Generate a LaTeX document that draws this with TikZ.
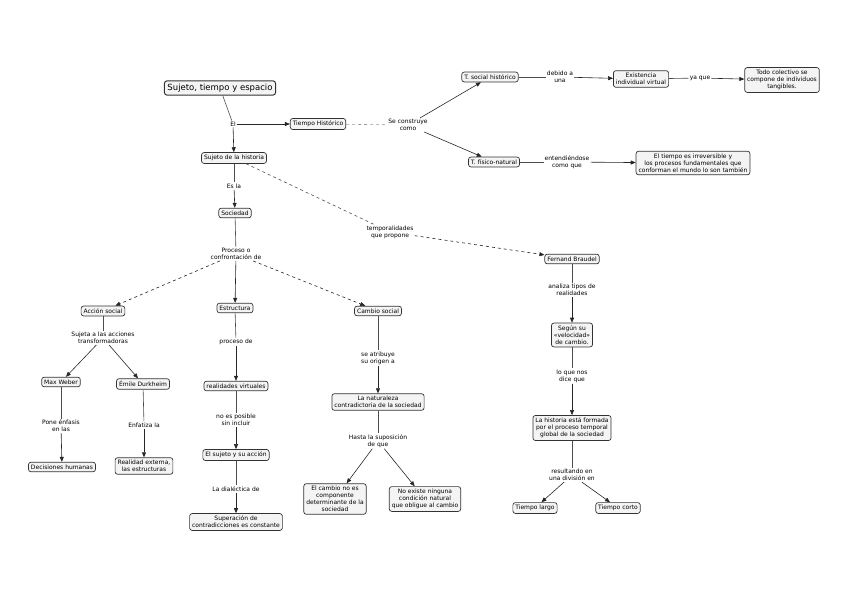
\documentclass[tikz,border=0pt]{standalone}
\usepackage{fontspec}
\setmainfont{DejaVu Sans}
\usetikzlibrary{arrows.meta}
\begin{document}
\begin{tikzpicture}[x=1pt,y=-1pt,
 c/.style={draw=black!80,fill=blue!4!gray!8,rounded corners=2.5pt,line width=0.7pt,font=\fontsize{6}{7}\selectfont,align=center,inner sep=2.5pt},
 l/.style={font=\fontsize{6}{7}\selectfont,align=center,inner sep=1pt,fill=white},
 ln/.style={draw=black!70,line width=0.6pt},
 ar/.style={draw=black!85,line width=0.6pt,-{Triangle[length=5pt,width=4pt]}},
 da/.style={ar,dashed}]
\useasboundingbox (0,0) rectangle (848,599);
\node[c,font=\fontsize{8.5}{10}\selectfont,line width=1pt,inner sep=3pt] (t) at (220,88) {Sujeto, tiempo y espacio};
\node[l] (el) at (233,124) {El};
\node[c] (th) at (318,124) {Tiempo Histórico};
\node[l] (sc) at (408,125) {Se construye\\como};
\node[c] (tsh) at (490,77) {T. social histórico};
\node[l] (dau) at (560,77) {debido a\\una};
\node[c] (eiv) at (641,79) {Existencia\\individual virtual};
\node[l] (yq) at (700,78) {ya que};
\node[c] (tc) at (782,80) {Todo colectivo se\\compone de individuos\\tangibles.};
\node[c] (tfn) at (494,162) {T. físico-natural};
\node[l] (ecq) at (567,162) {entendiéndose\\como que};
\node[c] (eti) at (693,163) {El tiempo es irreversible y\\los procesos fundamentales que\\conforman el mundo lo son también};
\node[c] (sh) at (234,158) {Sujeto de la historia};
\node[l] (esla) at (234,186) {Es la};
\node[c] (soc) at (235,213) {Sociedad};
\node[l] (tqp) at (390,232) {temporalidades\\que propone};
\node[c] (fb) at (572,259) {Fernand Braudel};
\node[l] (pcd) at (236,254) {Proceso o\\confrontación de};
\node[c] (as) at (103,311) {Acción social};
\node[c] (es) at (235,308) {Estructura};
\node[c] (cs) at (378,311) {Cambio social};
\node[l] (sat) at (103,338) {Sujeta a las acciones\\transformadoras};
\node[c] (mw) at (61,382) {Max Weber};
\node[c] (ed) at (143,384) {Émile Durkheim};
\node[l] (pe) at (61,426) {Pone énfasis\\en las};
\node[l] (ef) at (144,425) {Enfatiza la};
\node[c] (dh) at (62,467) {Decisiones humanas};
\node[c] (re) at (144,466) {Realidad externa,\\las estructuras};
\node[l] (pd) at (236,342) {proceso de};
\node[c] (rv) at (236,386) {realidades virtuales};
\node[l] (nep) at (236,420) {no es posible\\sin incluir};
\node[c] (esa) at (236,455) {El sujeto y su acción};
\node[l] (ld) at (236,489) {La dialéctica de};
\node[c] (sup) at (236,522) {Superación de\\contradicciones es constante};
\node[l] (sat2) at (378,358) {se atribuye\\su origen a};
\node[c] (lnc) at (378,402) {La naturaleza\\contradictoria de la sociedad};
\node[l] (hls) at (378,441) {Hasta la suposición\\de que};
\node[c] (ecn) at (335,499) {El cambio no es\\componente\\determinante de la\\sociedad};
\node[c] (nen) at (425,499) {No existe ninguna\\condición natural\\que obligue al cambio};
\node[l] (atr) at (572,290) {analiza tipos de\\realidades};
\node[c] (ssv) at (572,335) {Según su\\«velocidad»\\de cambio.};
\node[l] (lqn) at (572,376) {lo que nos\\dice que};
\node[c] (lhe) at (572,428) {La historia está formada\\por el proceso temporal\\global de la sociedad};
\node[l] (rud) at (572,475) {resultando en\\una división en};
\node[c] (tl) at (535,508) {Tiempo largo};
\node[c] (tco) at (618,508) {Tiempo corto};
% edges
\draw[ln] (t) -- (el); \draw[ar] (el) -- (th); \draw[ar] (el) -- (sh);
\draw[ln,dashed,draw=black!40] (th) -- (sc);
\draw[ar] (sc) -- (tsh); \draw[ar] (sc) -- (tfn);
\draw[ln] (tsh) -- (dau); \draw[ar] (dau) -- (eiv);
\draw[ln] (eiv) -- (yq); \draw[ar] (yq) -- (tc);
\draw[ln] (tfn) -- (ecq); \draw[ar] (ecq) -- (eti);
\draw[ln] (sh) -- (esla); \draw[ar] (esla) -- (soc);
\draw[ln,dashed] (sh) -- (tqp); \draw[da] (tqp) -- (fb);
\draw[ln] (soc) -- (pcd);
\draw[da] (pcd) -- (as); \draw[ar] (pcd) -- (es); \draw[da] (pcd) -- (cs);
\draw[ln] (as) -- (sat); \draw[ar] (sat) -- (mw); \draw[ar] (sat) -- (ed);
\draw[ln] (mw) -- (pe); \draw[ar] (pe) -- (dh);
\draw[ln] (ed) -- (ef); \draw[ar] (ef) -- (re);
\draw[ln] (es) -- (pd); \draw[ar] (pd) -- (rv);
\draw[ln] (rv) -- (nep); \draw[ar] (nep) -- (esa);
\draw[ln] (esa) -- (ld); \draw[ar] (ld) -- (sup);
\draw[ln] (cs) -- (sat2); \draw[ar] (sat2) -- (lnc);
\draw[ln] (lnc) -- (hls); \draw[ar] (hls) -- (ecn); \draw[ar] (hls) -- (nen);
\draw[ln] (fb) -- (atr); \draw[ar] (atr) -- (ssv);
\draw[ln] (ssv) -- (lqn); \draw[ar] (lqn) -- (lhe);
\draw[ln] (lhe) -- (rud); \draw[ar] (rud) -- (tl); \draw[ar] (rud) -- (tco);
\end{tikzpicture}
\end{document}
